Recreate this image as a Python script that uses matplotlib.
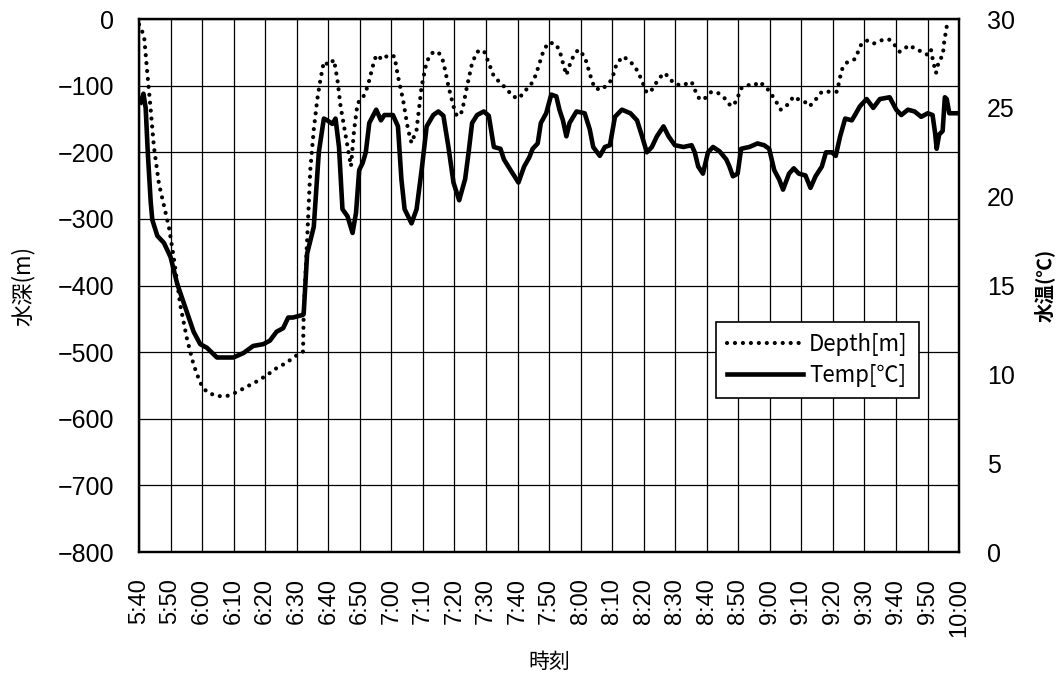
import matplotlib
matplotlib.use('Agg')
import matplotlib.pyplot as plt
import numpy as np

plt.rcParams['font.family'] = ['Noto Sans CJK JP', 'DejaVu Sans']
plt.rcParams['axes.unicode_minus'] = False

# 時刻ラベル (5:40 から 10 分ごと)
time_labels = ['5:40', '5:50', '6:00', '6:10', '6:20', '6:30', '6:40', '6:50',
               '7:00', '7:10', '7:20', '7:30', '7:40', '7:50', '8:00', '8:10',
               '8:20', '8:30', '8:40', '8:50', '9:00', '9:10', '9:20', '9:30',
               '9:40', '9:50', '10:00']

# 水深 [m] (5:40 からの経過分)
depth_t = [0.0, 1.6, 2.6, 3.7, 4.7, 6.3, 7.9, 9.5, 11.0, 13.1, 15.2, 17.3, 19.4,
           21.5, 24.7, 27.8, 31.0, 34.1, 37.3, 40.4, 43.6, 46.7, 49.9, 52.0,
           52.2, 53.3, 54.3, 55.4, 56.5, 57.5, 58.6, 60.2, 61.8, 62.9, 63.9,
           65.0, 66.1, 67.2, 68.2, 69.3, 70.9, 72.5, 74.1, 75.2, 77.3, 78.9,
           81.0, 82.1, 83.7, 85.3, 86.4, 88.0, 89.6, 91.2, 92.8, 94.9, 96.5,
           98.1, 99.7, 100.8, 102.4, 104.0, 105.6, 107.2, 109.3, 110.9, 112.5,
           114.6, 116.8, 118.4, 120.5, 122.1, 124.2, 125.8, 128.0, 129.6, 131.7,
           133.3, 134.4, 135.5, 137.1, 139.2, 141.3, 143.5, 144.5, 146.7, 148.3,
           149.9, 151.5, 153.6, 156.9, 158.4, 160.0, 161.0, 162.6, 164.2, 166.3,
           167.9, 169.4, 172.0, 175.2, 176.2, 177.8, 179.4, 181.5, 183.6, 185.7,
           187.7, 189.3, 190.9, 193.0, 195.1, 196.4, 198.7, 201.4, 203.5, 205.5,
           207.6, 209.2, 211.3, 212.6, 214.5, 216.5, 219.2, 221.3, 222.8, 224.5,
           227.0, 228.9, 230.7, 232.8, 234.3, 236.4, 238.0, 239.6, 241.2, 244.3,
           246.4, 248.5, 250.1, 251.1, 251.8, 252.7, 253.7, 254.8, 255.3, 256.1]
depth_m = [-8, -25, -80, -136, -191, -247, -280, -313, -358, -430, -480, -519, -546,
           -560, -566, -566, -560, -552, -544, -535, -524, -516, -505, -499,
           -441, -331, -226, -166, -121, -91, -64, -69, -61, -91, -131,
           -161, -191, -221, -166, -126, -119, -101, -71, -54, -61, -54,
           -56, -86, -121, -166, -186, -166, -101, -64, -51, -49, -64,
           -101, -131, -146, -139, -101, -66, -49, -47, -66, -86,
           -96, -106, -116, -119, -109, -99, -84, -51, -36, -36,
           -46, -66, -84, -61, -46, -56, -91, -104, -106, -99,
           -91, -66, -56, -69, -81, -99, -111, -106, -94, -81,
           -86, -96, -100, -94, -106, -121, -119, -109, -111, -119,
           -131, -124, -104, -99, -100, -94, -101, -119, -136, -129,
           -116, -121, -125, -131, -121, -109, -109, -109, -76, -65,
           -60, -39, -32, -37, -34, -30, -31, -39, -49, -39,
           -46, -49, -54, -46, -64, -81, -61, -56, -34, -11]

# 水温 [℃]
temp_t = [0.5, 1.4, 2.1, 2.8, 3.7, 4.2, 5.8, 7.9, 10.0, 12.1, 15.2, 17.3, 19.4,
          21.5, 24.7, 29.9, 33.1, 36.2, 39.4, 41.5, 43.6, 45.7, 47.3, 48.8, 52.0,
          52.2, 53.3, 55.4, 57.0, 58.6, 59.7, 61.3, 62.3, 63.4, 64.5, 66.1, 67.7,
          68.8, 69.8, 70.9, 71.9, 73.0, 75.2, 76.7, 77.8, 80.5, 82.1, 83.2, 84.2,
          86.4, 88.0, 89.6, 91.2, 93.3, 94.9, 96.5, 98.1, 99.7, 101.5, 103.4,
          104.5, 105.6, 107.2, 109.3, 110.9, 112.5, 114.6, 115.7, 117.8, 120.3,
          122.1, 123.7, 124.8, 126.4, 127.4, 129.1, 130.7, 132.3, 133.3, 134.4,
          135.5, 136.5, 138.7, 141.3, 142.9, 144.0, 146.1, 147.7, 149.3, 150.9,
          153.1, 155.8, 157.9, 159.5, 161.0, 162.6, 164.2, 166.3, 167.9, 169.9,
          172.6, 175.2, 176.2, 177.3, 178.8, 180.4, 182.0, 184.1, 186.2, 187.2,
          188.3, 189.8, 190.9, 193.5, 196.1, 198.2, 199.8, 201.4, 203.0, 204.2,
          206.1, 207.6, 209.2, 211.3, 212.9, 214.5, 216.5, 217.8, 219.7, 220.9,
          222.3, 223.9, 226.0, 227.0, 228.6, 230.7, 232.8, 234.9, 238.0, 240.1,
          241.7, 243.8, 245.9, 248.0, 250.1, 251.6, 252.4, 252.9, 253.7, 254.8,
          255.5, 256.1, 256.9, 259.5]
temp_c = [25.3, 25.8, 25.0, 22.4, 19.7, 18.7, 17.8, 17.4, 16.6, 15.1, 13.5, 12.4, 11.7,
          11.5, 10.95, 10.95, 11.2, 11.6, 11.7, 11.9, 12.4, 12.6, 13.2, 13.2, 13.35,
          13.4, 16.8, 18.3, 22.5, 24.4, 24.3, 24.1, 24.4, 22.8, 19.3, 18.9, 17.96,
          19.1, 21.5, 21.9, 22.5, 24.15, 24.9, 24.3, 24.6, 24.6, 23.96, 20.96, 19.3,
          18.5, 19.3, 21.5, 23.96, 24.6, 24.8, 24.56, 22.8, 20.8, 19.8, 21.0,
          22.5, 24.15, 24.6, 24.8, 24.56, 22.8, 22.7, 22.1, 21.5, 20.8,
          21.7, 22.2, 22.7, 23.0, 24.15, 24.7, 25.75, 25.65, 24.9, 24.3,
          23.4, 24.15, 24.8, 24.7, 23.8, 22.8, 22.3, 22.8, 22.9, 24.5,
          24.9, 24.7, 24.3, 23.4, 22.5, 22.8, 23.4, 23.96, 23.4, 22.9,
          22.8, 22.9, 22.5, 21.7, 21.3, 22.5, 22.8, 22.55, 22.1, 21.7,
          21.15, 21.3, 22.7, 22.8, 23.0, 22.9, 22.7, 21.5, 20.96, 20.4,
          21.3, 21.6, 21.3, 21.2, 20.5, 21.15, 21.7, 22.5, 22.5, 22.3,
          23.4, 24.4, 24.3, 24.6, 25.1, 25.5, 25.0, 25.5, 25.6, 24.9,
          24.6, 24.9, 24.8, 24.5, 24.7, 24.6, 23.6, 22.7, 23.5, 23.7,
          25.6, 25.5, 24.7, 24.7]

depth_ticks = np.arange(-800, 1, 100)
temp_ticks = np.arange(0, 31, 5)
time_ticks = np.arange(len(time_labels)) * 10

num_font = ['Liberation Sans', 'DejaVu Sans']

fig = plt.figure(figsize=(10.63, 6.87), dpi=100)
ax = fig.add_axes([0.1308, 0.1965, 0.7714, 0.7757])
ax2 = ax.twinx()

# 水深 (点線)
l1, = ax.plot(depth_t, depth_m, color='black', linestyle=(0, (0.01, 1.9)),
              linewidth=3.0, dash_capstyle='round', zorder=3)
# 水温 (実線)
l2, = ax2.plot(temp_t, temp_c, color='black', linewidth=3.3, zorder=3)

ax.set_xlim(0, 260)
ax.set_ylim(-800, 0)
ax2.set_ylim(0, 30)
ax.set_xticks(time_ticks)
ax.set_xticklabels(time_labels, rotation=90, fontsize=17, family=num_font)
ax.set_yticks(depth_ticks)
ax.set_yticklabels([str(v).replace('-', '\u2212') for v in depth_ticks],
                   fontsize=18, family=num_font)
ax2.set_yticks(temp_ticks)
ax2.set_yticklabels([str(v) for v in temp_ticks], fontsize=18, family=num_font)
ax.tick_params(axis='x', length=0, pad=19)
ax.tick_params(axis='y', length=0, pad=18)
ax2.tick_params(axis='y', length=0, pad=20)

ax.grid(True, color='black', linewidth=0.9)
ax.set_axisbelow(True)
for a in (ax, ax2):
    for s in a.spines.values():
        s.set_linewidth(1.6)

ax.set_ylabel('水深(m)', fontsize=16, va='center')
ax.yaxis.set_label_coords(-0.141, 0.5)
ax2.set_ylabel('水温(℃)', fontsize=14, fontweight='bold', va='center', rotation=90)
ax2.yaxis.set_label_coords(1.1045, 0.5)
ax.set_xlabel('時刻', fontsize=15, va='center')
ax.xaxis.set_label_coords(0.5, -0.206)

leg = ax2.legend([l1, l2], ['Depth[m]', 'Temp[℃]'], loc='upper left',
                 bbox_to_anchor=(0.7035, 0.4315), borderaxespad=0, fontsize=16,
                 frameon=True, fancybox=False, edgecolor='black', framealpha=1,
                 handlelength=3.4, handletextpad=0.3, borderpad=0.5,
                 labelspacing=0.35)
leg.get_frame().set_linewidth(1.2)

fig.savefig('out.png', dpi=100, facecolor='white')
plt.close()
